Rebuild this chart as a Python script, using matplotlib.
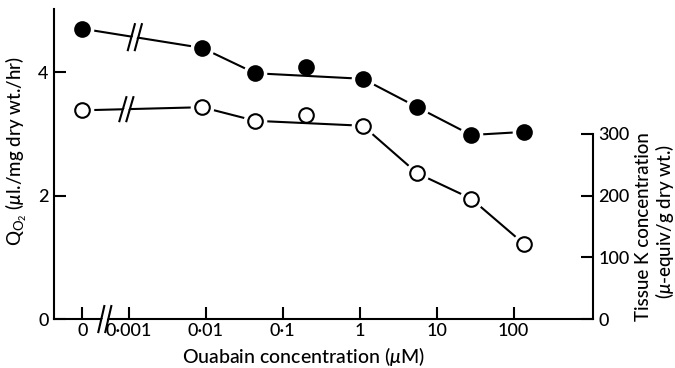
import matplotlib
matplotlib.use('Agg')
from matplotlib import pyplot as plt
from matplotlib.lines import Line2D
from matplotlib.patches import Polygon
from matplotlib.transforms import IdentityTransform
import numpy as np

# ouabain concentration (uM), 0 is the control
conc = [0, 0.009, 0.044, 0.2, 1.1, 5.6, 28, 135]
qo2 = [4.70, 4.39, 3.98, 4.08, 3.89, 3.43, 2.98, 3.03]
tissue_k = [338, 343, 321, 330, 313, 236, 195, 122]
# fitted line skips the 4th point in both series
links = [(0, 1), (1, 2), (2, 4), (4, 5), (5, 6), (6, 7)]

xtick_vals = [0, 0.001, 0.01, 0.1, 1, 10, 100]
xtick_labels = ['0', '0·001', '0·01', '0·1', '1', '10', '100']
qo2_ticks = [0, 2, 4]
k_ticks = [0, 100, 200, 300]

ZERO_X = -3.6   # where the control sits on the log axis


def xpos(c):
    return ZERO_X if c == 0 else np.log10(c)


plt.rcParams['font.family'] = ['Lato', 'DejaVu Sans']
plt.rcParams['font.size'] = 13
plt.rcParams['font.weight'] = 'medium'
plt.rcParams['mathtext.fontset'] = 'custom'
plt.rcParams['mathtext.rm'] = 'Lato:medium'
plt.rcParams['mathtext.it'] = 'Lato:italic:medium'
plt.rcParams['mathtext.bf'] = 'Lato:bold'

fig = plt.figure(figsize=(6.75, 3.68), dpi=100)
ax = fig.add_axes([0.08, 0.133, 0.7985, 0.8425])
ax2 = ax.twinx()

ax.set_xlim(-3.97, 3.03)
ax.set_ylim(0, 5.02)
ax2.set_ylim(0, 502)

for s in ['top', 'right']:
    ax.spines[s].set_visible(False)
for s in ['top', 'left', 'bottom']:
    ax2.spines[s].set_visible(False)
for sp in list(ax.spines.values()) + list(ax2.spines.values()):
    sp.set_linewidth(1.5)
ax2.spines['right'].set_bounds(0, 300)

ax.set_xticks([xpos(v) for v in xtick_vals], xtick_labels)
ax.set_yticks(qo2_ticks)
ax2.set_yticks(k_ticks)
ax.tick_params(axis='x', direction='in', length=8.5, width=1.5, pad=3)
ax.tick_params(axis='y', direction='in', length=8.5, width=1.5, pad=4)
ax2.tick_params(axis='y', direction='in', length=8.5, width=1.5, pad=4)

xs = [xpos(c) for c in conc]


def draw_series(axis, ys, filled):
    for i, j in links:
        axis.plot([xs[i], xs[j]], [ys[i], ys[j]], color='black', lw=1.5,
                  zorder=2, solid_capstyle='butt')
    # white halo leaves a small gap where the line meets a point
    hx = [x for k, x in enumerate(xs) if k != 3]
    hy = [y for k, y in enumerate(ys) if k != 3]
    axis.plot(hx, hy, 'o', ms=16, mfc='white', mec='white', zorder=3)
    axis.plot(xs, ys, 'o', ms=10.5, mec='black', mew=1.5,
              mfc='black' if filled else 'white', zorder=4)


def draw_break(axis, x, y, h=24, slant=6, gap=7):
    cx, cy = axis.transData.transform((x, y))
    tr = IdentityTransform()
    l0 = cx - gap / 2
    r0 = cx + gap / 2
    axis.add_patch(Polygon([(l0 - slant / 2 + 1, cy - 5), (r0 - slant / 2 - 1, cy - 5),
                            (r0 + slant / 2 - 1, cy + 5), (l0 + slant / 2 + 1, cy + 5)],
                           closed=True, fc='white', ec='none', transform=tr,
                           clip_on=False, zorder=5))
    for off in (l0, r0):
        axis.add_line(Line2D([off - slant / 2, off + slant / 2],
                             [cy - h / 2, cy + h / 2], color='black', lw=1.5,
                             transform=tr, clip_on=False, zorder=6))


def on_first_link(ys, x):
    t = (x - xs[0]) / (xs[1] - xs[0])
    return ys[0] + t * (ys[1] - ys[0])


draw_series(ax, qo2, True)
draw_series(ax2, tissue_k, False)

draw_break(ax, -2.92, on_first_link(qo2, -2.92), h=26, slant=7)
draw_break(ax2, -3.03, on_first_link(tissue_k, -3.03), h=24, slant=7)
draw_break(ax, -3.31, 0, h=26, slant=6)

fig.text(0.025, 0.59, r'Q$_{\mathrm{O}_2}$ ($\mathit{\mu}$l./mg dry wt./hr)',
         rotation=90, ha='center', va='center', fontsize=13.5)
fig.text(0.953, 0.383, 'Tissue K concentration', rotation=90,
         ha='center', va='center', fontsize=13.5)
fig.text(0.985, 0.399, r'($\mathit{\mu}$-equiv/g dry wt.)', rotation=90,
         ha='center', va='center', fontsize=13.5)
fig.text(0.449, 0.03, r'Ouabain concentration ($\mathit{\mu}$M)',
         ha='center', va='center', fontsize=14)

fig.savefig('out.png', dpi=100)
